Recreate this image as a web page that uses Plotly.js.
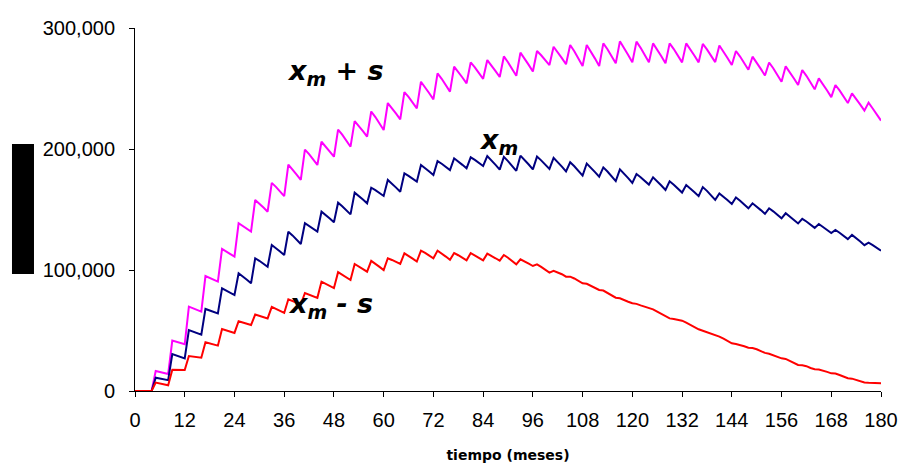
<!DOCTYPE html>
<html>
<head>
<meta charset="utf-8">
<script src="https://cdn.plot.ly/plotly-3.0.1.min.js"></script>
<style>html,body{margin:0;padding:0;background:#fff;}#chart{width:900px;height:463px;}</style>
</head>
<body>
<div id="chart"></div>
<script>
// month index 0..180
const months = Array.from({length: 181}, (_, i) => i);
const xTicks = [0, 12, 24, 36, 48, 60, 72, 84, 96, 108, 120, 132, 144, 156, 168, 180];
const yTicks = [0, 100000, 200000, 300000];

// x_m + s
const xmPlusS = [
  0, 0, 0, 0, 0,
  16500, 15800, 14900, 14000,
  41600, 40700, 39600, 38600,
  69700, 68500, 67000, 65600,
  95000, 93600, 92000, 90400,
  117400, 115500, 113200, 111000,
  138600, 136500, 134100, 131700,
  157900, 155000, 151600, 148200,
  172000, 168700, 164900, 161000,
  187000, 183200, 178800, 174400,
  199500, 195700, 191200, 186800,
  206000, 202300, 197900, 193600,
  216000, 211800, 206800, 201900,
  223000, 219200, 214700, 210200,
  231000, 226400, 221100, 215700,
  238000, 234000, 229200, 224500,
  247000, 243000, 238300, 233600,
  255600, 251200, 246100, 241000,
  262500, 258000, 252700, 247400,
  268000, 263900, 259100, 254300,
  271600, 267500, 262800, 258000,
  273500, 269300, 264400, 259500,
  276500, 271700, 266100, 260500,
  279600, 274900, 269500, 264000,
  281000, 277500, 273500, 269400,
  284500, 280200, 275100, 270000,
  286000, 280800, 274700, 268600,
  286000, 280800, 274700, 268600,
  287300, 282400, 276600, 270800,
  289000, 283800, 277700, 271600,
  288700, 283600, 277600, 271600,
  287300, 282400, 276600, 270800,
  287300, 282600, 277100, 271600,
  287300, 282600, 277100, 271600,
  286800, 282300, 277100, 271800,
  285500, 280700, 275000, 269400,
  281000, 276400, 270900, 265500,
  276300, 271700, 266200, 260800,
  271500, 266700, 261200, 255600,
  268300, 263700, 258300, 252900,
  265300, 260500, 254900, 249300,
  258400, 253800, 248300, 242900,
  252900, 248400, 243200, 238000,
  246000, 241700, 236700, 231700,
  238300, 233500, 229000, 223500
];

// x_m
const xm = [
  0, 0, 0, 0, 0,
  11000, 10400, 9700, 9000,
  30600, 29500, 28300, 27000,
  50400, 49200, 47900, 46500,
  67800, 66700, 65500, 64200,
  84900, 83200, 81300, 79300,
  97300, 94800, 91900, 89000,
  109700, 107600, 105200, 102700,
  120700, 118200, 115300, 112400,
  131700, 128600, 125100, 121500,
  138600, 136500, 134100, 131700,
  148200, 145600, 142500, 139400,
  155600, 152700, 149400, 146000,
  163900, 161300, 158200, 155100,
  168000, 166000, 163600, 161200,
  174400, 171500, 168100, 164700,
  179900, 177800, 175400, 173000,
  186800, 184300, 181400, 178500,
  190000, 187800, 185200, 182600,
  192300, 189800, 186900, 184000,
  193100, 191000, 188500, 186000,
  194200, 190800, 186900, 183000,
  193500, 190000, 186000, 182000,
  194500, 191100, 187200, 183200,
  193700, 190600, 187100, 183500,
  192700, 189300, 185400, 181500,
  189000, 185700, 181900, 178000,
  188000, 184700, 180900, 177100,
  184800, 181400, 177500, 173500,
  183200, 179800, 175900, 172000,
  179300, 176700, 173600, 170600,
  176600, 173400, 169800, 166100,
  173300, 170500, 167300, 164000,
  170200, 167400, 164200, 161000,
  168500, 165400, 161700, 158000,
  163300, 160700, 157600, 154500,
  160000, 157300, 154200, 151000,
  155100, 152500, 149500, 146500,
  151000, 148500, 145600, 142700,
  146900, 144400, 141400, 138500,
  142300, 140100, 137400, 134800,
  138000, 135800, 133100, 130500,
  133100, 130800, 128200, 125500,
  129000, 126500, 123500, 120500,
  122600, 120500, 118200, 116000
];

// x_m - s
const xmMinusS = [
  0, 0, 0, 0, 0,
  7000, 6300, 5500, 4700,
  17600, 17600, 17500, 17400,
  28900, 28600, 28000, 27500,
  40300, 39500, 38500, 37500,
  51200, 50200, 49100, 48000,
  57700, 56700, 55600, 54500,
  63200, 62200, 61100, 60000,
  69500, 68000, 66200, 64500,
  75800, 74500, 73000, 71500,
  81000, 79800, 78400, 77000,
  90400, 88800, 86900, 85000,
  98200, 96200, 94000, 91700,
  105000, 103100, 100800, 98600,
  107500, 105300, 102600, 100000,
  109700, 108300, 106600, 105000,
  113800, 111800, 109400, 107000,
  116000, 114100, 111900, 109700,
  116000, 113800, 111100, 108500,
  114000, 112200, 110100, 108000,
  114000, 112200, 110100, 108000,
  113500, 111800, 109700, 107700,
  112400, 110100, 107400, 104700,
  108800, 107200, 105200, 103300,
  104700, 102600, 100200, 97800,
  99400, 98000, 96500, 94500,
  94500, 93000, 91000, 89000,
  88600, 87000, 85200, 83500,
  83000, 81000, 79000, 77100,
  76600, 75000, 73800, 72500,
  72000, 70800, 69800, 68900,
  67500, 65600, 63500, 61500,
  60000, 59500, 58800, 58100,
  56500, 54500, 52500, 51000,
  49800, 48600, 47000, 46300,
  45000, 43200, 41500, 39400,
  38800, 38200, 37000, 35800,
  35500, 34500, 33000, 31500,
  30800, 29500, 28000, 27000,
  26500, 25000, 23000, 21500,
  21200, 20500, 19000, 18000,
  17800, 17000, 15800, 14600,
  14400, 13200, 11800, 10500,
  10200, 9000, 7800, 7000,
  6800, 6600, 6500, 6500
];

const seriesNames = ['x_m + s', 'x_m', 'x_m - s'];
const seriesColors = ['#FF00FF', '#000080', '#FF0000'];
const seriesData = [xmPlusS, xm, xmMinusS];

const traces = seriesData.map((ys, i) => ({
  x: months,
  y: ys,
  type: 'scatter',
  mode: 'lines',
  name: seriesNames[i],
  line: {color: seriesColors[i], width: 2},
  cliponaxis: false,
  hoverinfo: 'skip'
}));

const tickFont = {family: 'Liberation Sans, Arial, sans-serif', size: 20, color: '#000'};
const annFont = {family: 'DejaVu Sans, sans-serif', size: 27, color: '#000', weight: 'bold', style: 'italic'};

const layout = {
  width: 900,
  height: 463,
  margin: {l: 135, r: 19, t: 28, b: 72, pad: 0},
  paper_bgcolor: '#ffffff',
  plot_bgcolor: '#ffffff',
  showlegend: false,
  xaxis: {
    range: [0, 180],
    tickmode: 'array',
    tickvals: xTicks,
    ticktext: xTicks.map(String),
    ticks: 'outside',
    ticklen: 5,
    tickwidth: 1,
    tickcolor: '#000',
    ticklabelstandoff: 6,
    showline: true,
    linecolor: '#000',
    linewidth: 1,
    showgrid: false,
    zeroline: false,
    tickfont: tickFont,
    title: {
      text: 'tiempo (meses)',
      font: {family: 'DejaVu Sans, sans-serif', size: 14, color: '#000', weight: 'bold'},
      standoff: 21
    }
  },
  yaxis: {
    range: [0, 300000],
    tickmode: 'array',
    tickvals: yTicks,
    ticktext: yTicks.map(v => v.toLocaleString('en-US')),
    ticks: 'outside',
    ticklen: 5,
    tickwidth: 1,
    tickcolor: '#000',
    ticklabelstandoff: 10,
    showline: true,
    linecolor: '#000',
    linewidth: 1,
    showgrid: false,
    zeroline: false,
    tickfont: tickFont
  },
  shapes: [{
    type: 'rect', xref: 'paper', yref: 'paper',
    x0: -0.1649, x1: -0.1354, y0: 0.3223, y1: 0.6804,
    fillcolor: '#000', line: {width: 0}, layer: 'above'
  }],
  annotations: [
    {xref: 'x', yref: 'y', x: 36.2, y: 263000, xanchor: 'left', yanchor: 'middle',
     text: 'x<sub>m</sub> + s', showarrow: false, font: annFont},
    {xref: 'x', yref: 'y', x: 82.4, y: 206500, xanchor: 'left', yanchor: 'middle',
     text: 'x<sub>m</sub>', showarrow: false, font: annFont},
    {xref: 'x', yref: 'y', x: 36.5, y: 71000, xanchor: 'left', yanchor: 'middle',
     text: 'x<sub>m</sub> - s', showarrow: false, font: annFont}
  ]
};

Plotly.newPlot('chart', traces, layout, {staticPlot: true, displayModeBar: false});
</script>
</body>
</html>
